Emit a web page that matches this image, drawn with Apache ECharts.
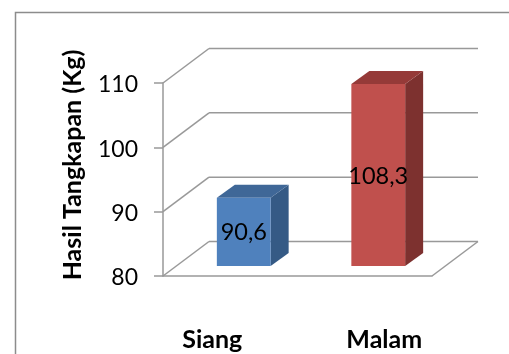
<!DOCTYPE html>
<html>
<head>
<meta charset="utf-8">
<style>
  html, body { margin: 0; padding: 0; background: #fff; }
  #chart { width: 509px; height: 354px; }
</style>
<script src="https://cdn.jsdelivr.net/npm/echarts@6/dist/echarts.min.js"></script>
</head>
<body>
<div id="chart"></div>
<script>
const categories = ['Siang', 'Malam']
const hasilValues = [90.6, 108.3]
const yTicks = [80, 90, 100, 110]
const frontColors = ['#4f81bd', '#c0504d']
const topColors = ['#3f6797', '#953a38']
const sideColors = ['#355a85', '#7d312f']

const wallColor = '#999999'
const fontName = 'Lato, sans-serif'

// kedalaman semu 3D, dalam piksel
const wallDepth = [46, 34.5]
const barShift = [13.5, 10]
const barDepth = [18, 13]

const chart = echarts.init(document.getElementById('chart'))

function wallLine(x1, y1, x2, y2) {
  return {
    type: 'line',
    shape: { x1, y1, x2, y2 },
    style: { stroke: wallColor, lineWidth: 1.5, fill: null },
  }
}

function renderWall(params, api) {
  const value = api.value(1)
  const band = api.size([1, 0])[0]
  const left = api.coord([0, value])[0] - band / 2
  const right = api.coord([categories.length - 1, value])[0] + band / 2
  const y = api.coord([0, value])[1]
  const children = [
    wallLine(left, y, left + wallDepth[0], y - wallDepth[1]),
    wallLine(left + wallDepth[0], y - wallDepth[1], right + wallDepth[0], y - wallDepth[1]),
  ]
  // lantai: sisi kanan hanya pada nilai terbawah
  if (value === yTicks[0]) {
    children.push(wallLine(right, y, right + wallDepth[0], y - wallDepth[1]))
  }
  return { type: 'group', children }
}

function renderBar(params, api) {
  const i = api.value(0)
  const top = api.coord([i, api.value(1)])
  const base = api.coord([i, yTicks[0]])
  const width = api.size([1, 0])[0] * 0.4
  const x0 = top[0] - width / 2 + barShift[0]
  const x1 = x0 + width
  const y0 = top[1] - barShift[1]
  const y1 = base[1] - barShift[1]
  const dx = barDepth[0]
  const dy = barDepth[1]
  return {
    type: 'group',
    children: [
      {
        type: 'polygon',
        shape: { points: [[x1, y0], [x1 + dx, y0 - dy], [x1 + dx, y1 - dy], [x1, y1]] },
        style: { fill: sideColors[i] },
      },
      {
        type: 'polygon',
        shape: { points: [[x0, y0], [x0 + dx, y0 - dy], [x1 + dx, y0 - dy], [x1, y0]] },
        style: { fill: topColors[i] },
      },
      {
        type: 'rect',
        shape: { x: x0, y: y0, width, height: y1 - y0 },
        style: { fill: frontColors[i] },
      },
      {
        type: 'text',
        z2: 10,
        style: {
          x: (x0 + x1) / 2,
          y: (y0 + y1) / 2 + 1,
          text: String(api.value(1)).replace('.', ','),
          align: 'center',
          verticalAlign: 'middle',
          fill: '#000',
          font: '23.5px ' + fontName,
        },
      },
    ],
  }
}

const option = {
  animation: false,
  backgroundColor: '#fff',
  textStyle: { fontFamily: fontName },
  graphic: [
    {
      // bingkai chart terpotong di kanan dan bawah
      type: 'polyline',
      shape: { points: [[15.5, 354], [15.5, 12.5], [509, 12.5]] },
      style: { stroke: '#8c8c8c', lineWidth: 1.5, fill: null },
    },
  ],
  grid: { left: 163, top: 83, width: 269, height: 193 },
  xAxis: {
    type: 'category',
    data: categories,
    axisLine: { lineStyle: { color: wallColor, width: 1.5 } },
    axisTick: { show: false },
    axisLabel: {
      margin: 51,
      interval: 0,
      // label asli tidak tepat di tengah kategori
      formatter: (value, index) => (index === 0 ? '{a|' + value + '}' : '{b|' + value + '}'),
      rich: {
        a: { fontSize: 25, fontWeight: 'bold', color: '#000', fontFamily: fontName, padding: [0, 36, 0, 0] },
        b: { fontSize: 25, fontWeight: 'bold', color: '#000', fontFamily: fontName, padding: [0, 0, 0, 39] },
      },
    },
  },
  yAxis: {
    type: 'value',
    min: 80,
    max: 110,
    interval: 10,
    name: 'Hasil Tangkapan (Kg)',
    nameLocation: 'middle',
    nameRotate: 90,
    nameGap: 78,
    nameTextStyle: { fontSize: 25, fontWeight: 'bold', color: '#000', fontFamily: fontName, padding: [0, 0, 0, 29] },
    axisLine: { show: true, lineStyle: { color: wallColor, width: 1.5 } },
    axisTick: { show: true, length: 9, lineStyle: { color: wallColor, width: 1.5 } },
    axisLabel: {
      margin: 25,
      // angka sedikit lebih rendah dari garisnya
      formatter: '{t|{value}}',
      rich: {
        t: { fontSize: 23, color: '#000', fontFamily: fontName, padding: [4, 0, 0, 0] },
      },
    },
    splitLine: { show: false },
  },
  series: [
    {
      type: 'custom',
      renderItem: renderWall,
      data: yTicks.map(v => [0, v]),
      encode: { x: 0, y: 1 },
      z: 1,
      silent: true,
    },
    {
      type: 'custom',
      renderItem: renderBar,
      data: hasilValues.map((v, i) => [i, v]),
      encode: { x: 0, y: 1 },
      z: 2,
    },
  ],
}

chart.setOption(option)
</script>
</body>
</html>
